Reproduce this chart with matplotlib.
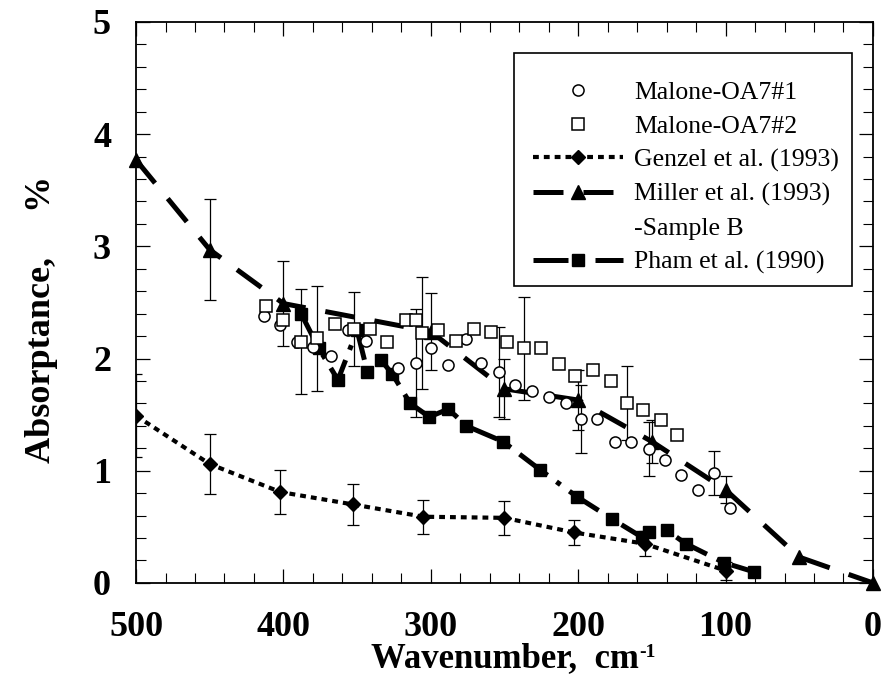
import numpy as np
import matplotlib
matplotlib.use("Agg")
import matplotlib.pyplot as plt
from matplotlib.lines import Line2D
from matplotlib.patches import Rectangle

# ---------------- data ----------------
# Malone-OA7#1 (open circles)
malone1_wn = [413, 402, 391, 380, 368, 356, 344, 322, 310, 300, 288, 276, 266, 254,
              243, 231, 220, 208, 198, 187, 175, 164, 152, 141, 130, 119, 108, 97]
malone1_abs = [2.38, 2.30, 2.15, 2.10, 2.02, 2.25, 2.16, 1.92, 1.96, 2.09, 1.94, 2.17, 1.96, 1.88,
               1.76, 1.71, 1.66, 1.60, 1.46, 1.46, 1.26, 1.26, 1.19, 1.10, 0.96, 0.83, 0.98, 0.67]
malone1_err = [0, 0, 0, 0, 0, 0, 0, 0, 0.48, 0, 0, 0, 0, 0.40,
               0, 0, 0, 0, 0.30, 0, 0, 0, 0.24, 0, 0, 0, 0.20, 0]

# Malone-OA7#2 (open squares)
malone2_wn = [412, 400, 388, 377, 365, 352, 341, 330, 317, 310, 306, 295, 283, 271,
              259, 248, 237, 225, 213, 202, 190, 178, 167, 156, 144, 133]
malone2_abs = [2.47, 2.34, 2.15, 2.18, 2.31, 2.26, 2.26, 2.15, 2.34, 2.34, 2.23, 2.25, 2.16, 2.26,
               2.24, 2.15, 2.09, 2.09, 1.95, 1.84, 1.90, 1.80, 1.60, 1.54, 1.45, 1.32]
malone2_err = [0, 0, 0.47, 0.47, 0, 0.33, 0, 0, 0, 0, 0.50, 0, 0, 0,
               0, 0, 0.46, 0, 0, 0, 0, 0, 0.33, 0, 0, 0]

# Genzel et al. (1993)
genzel_wn = [500, 450, 402, 353, 305, 250, 203, 155, 100]
genzel_abs = [1.49, 1.06, 0.81, 0.70, 0.59, 0.58, 0.45, 0.35, 0.11]
genzel_err = [0.37, 0.27, 0.20, 0.18, 0.15, 0.15, 0.11, 0.11, 0.08]

# Miller et al. (1993) - Sample B
miller_wn = [500, 450, 400, 300, 250, 200, 150, 100, 50, 0]
miller_abs = [3.77, 2.97, 2.49, 2.24, 1.73, 1.63, 1.26, 0.83, 0.23, 0.0]
miller_err = [0, 0.45, 0.38, 0.34, 0.27, 0.27, 0.19, 0.12, 0, 0]

# Pham et al. (1990)
pham_wn = [388, 376, 363, 350, 343, 334, 326, 314, 301, 288, 276, 251, 226, 201,
           177, 157, 152, 140, 127, 101, 81]
pham_abs = [2.40, 2.09, 1.81, 2.25, 1.88, 1.99, 1.86, 1.60, 1.48, 1.55, 1.40, 1.26, 1.01, 0.77,
            0.57, 0.41, 0.45, 0.47, 0.35, 0.18, 0.10]

x_ticks = [500, 400, 300, 200, 100, 0]
y_ticks = [0, 1, 2, 3, 4, 5]

# ---------------- figure ----------------
plt.rcParams['font.family'] = ['Liberation Serif', 'DejaVu Serif']
fig = plt.figure(figsize=(8.85, 6.85), dpi=100)
ax = fig.add_axes([0.1537, 0.149, 0.8327, 0.819])

ERR_KW = dict(fmt='none', ecolor='black', elinewidth=0.9, capsize=4.5, capthick=0.9, zorder=2)


def draw_errors(wn, val, err):
    wn, val, err = map(np.asarray, (wn, val, err))
    m = err > 0
    ax.errorbar(wn[m], val[m], yerr=err[m], **ERR_KW)


draw_errors(genzel_wn, genzel_abs, genzel_err)
draw_errors(miller_wn, miller_abs, miller_err)
draw_errors(malone1_wn, malone1_abs, malone1_err)
draw_errors(malone2_wn, malone2_abs, malone2_err)

l_m1, = ax.plot(malone1_wn, malone1_abs, linestyle='none', marker='o', ms=8,
                mfc='white', mec='black', mew=1.1, zorder=4, label='Malone-OA7#1')
l_m2, = ax.plot(malone2_wn, malone2_abs, linestyle='none', marker='s', ms=8,
                mfc='white', mec='black', mew=1.1, zorder=4, label='Malone-OA7#2')
l_g, = ax.plot(genzel_wn, genzel_abs, color='black', lw=3.0, linestyle=(0, (1.4, 1.2)),
               marker='D', ms=7.5, mfc='black', mec='black', zorder=3,
               label='Genzel et al. (1993)')
l_mi, = ax.plot(miller_wn, miller_abs, color='black', lw=3.6, linestyle=(0, (6, 4)),
                marker='^', ms=10, mfc='black', mec='black', zorder=3, clip_on=False,
                label='Miller et al. (1993)')
l_p, = ax.plot(pham_wn, pham_abs, color='black', lw=3.6, linestyle=(0, (7, 2.2, 1, 2.2)),
               marker='s', ms=9, mfc='black', mec='black', zorder=3,
               label='Pham et al. (1990)')
blank = Line2D([], [], linestyle='none', marker='none', label='-Sample B')

ax.set_xlim(500, 0)
ax.set_ylim(0, 5)
ax.set_xticks(x_ticks)
ax.set_yticks(y_ticks)
ax.set_xticks(np.arange(0, 501, 20), minor=True)
ax.set_yticks(np.arange(0, 5.01, 0.2), minor=True)
ax.tick_params(which='both', direction='in', top=True, right=True, color='black')
ax.tick_params(which='major', length=10, width=0.9)
ax.tick_params(which='minor', length=7, width=0.8)
ax.tick_params(axis='x', which='major', labelsize=26, pad=20)
ax.tick_params(axis='y', which='major', labelsize=26, pad=18)
for lab in ax.get_xticklabels() + ax.get_yticklabels():
    lab.set_fontweight('bold')
for s in ax.spines.values():
    s.set_linewidth(1.3)

ax.set_xlabel('Wavenumber,  cm', fontsize=25, fontweight='bold', labelpad=-1)
ax.set_ylabel('Absorptance,     %', fontsize=26, fontweight='bold')
ax.yaxis.set_label_coords(-0.106, 0.47)

# legend box drawn as its own frame, entries placed inside it
ax.add_patch(Rectangle((0.513, 0.529), 0.4585, 0.4157, transform=ax.transAxes,
                       facecolor='white', edgecolor='black', linewidth=1.2, zorder=5))
leg = ax.legend(handles=[l_m1, l_m2, l_g, l_mi, blank, l_p],
                loc='upper left', bbox_to_anchor=(0.5387, 0.895), borderaxespad=0,
                fontsize=18.5, frameon=False,
                handlelength=3.5, handletextpad=0.43, labelspacing=0.42,
                borderpad=0)
leg.set_zorder(6)

# superscript "-1" after the unit of the x label
fig.canvas.draw()
bb = ax.xaxis.label.get_window_extent()
fig.text((bb.x1 + 1) / fig.bbox.width, (bb.y1 - 2) / fig.bbox.height, '-1',
         fontsize=14, fontweight='bold', ha='left', va='top')

fig.savefig('out.png', dpi=100)
